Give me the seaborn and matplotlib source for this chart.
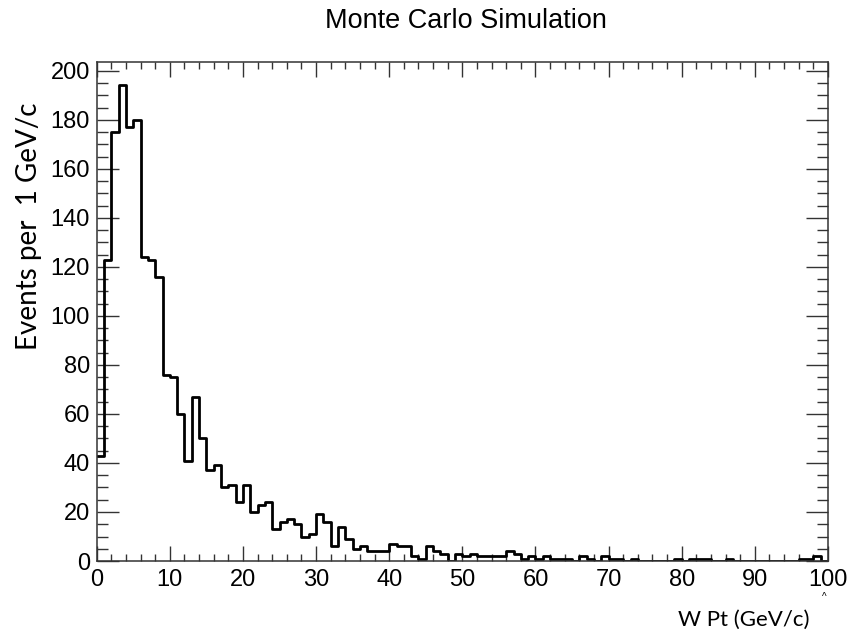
"""W Pt distribution from a Monte Carlo simulation, drawn ROOT style."""
import matplotlib
matplotlib.use('Agg')
import matplotlib.pyplot as plt
from matplotlib.ticker import MultipleLocator
import numpy as np
import seaborn as sns

# events per 1 GeV/c bin, bins 0-1, 1-2, ... 99-100
bin_low = np.arange(0, 100)
counts = [43, 123, 175, 194, 177, 180, 124, 123, 116, 76,
          75, 60, 41, 67, 50, 37, 39, 30, 31, 24,
          31, 20, 23, 24, 13, 16, 17, 15, 10, 11,
          19, 16, 6, 14, 9, 5, 6, 4, 4, 4,
          7, 6, 6, 2, 1, 6, 4, 3, 0, 3,
          2, 3, 2, 2, 2, 2, 4, 3, 1, 2,
          1, 2, 1, 1, 1, 0, 2, 1, 0, 2,
          1, 1, 0, 1, 0, 0, 0, 0, 0, 1,
          0, 1, 1, 1, 0, 0, 1, 0, 0, 0,
          0, 0, 0, 0, 0, 0, 1, 1, 2, 0]

title = 'Monte Carlo Simulation'
x_title = 'W Pt (GeV/c)'
y_title = 'Events per  1 GeV/c'

sns.set_style('ticks')
plt.rcParams['font.family'] = ['Liberation Sans', 'DejaVu Sans']
plt.rcParams['text.color'] = 'black'

fig = plt.figure(figsize=(8.59, 6.36), dpi=100)
ax = fig.add_axes([0.1126, 0.1179, 0.8513, 0.7851])

sns.histplot(x=bin_low + 0.5, weights=counts, bins=100, binrange=(0, 100),
             element='step', fill=False, color='black', linewidth=2.0, ax=ax)

ax.set_xlim(0, 100)
ax.set_ylim(0, 1.05 * max(counts))  # ROOT leaves 5% headroom

# ticks on all four sides, pointing in
ax.xaxis.set_major_locator(MultipleLocator(10))
ax.xaxis.set_minor_locator(MultipleLocator(2))
ax.yaxis.set_major_locator(MultipleLocator(20))
ax.yaxis.set_minor_locator(MultipleLocator(5))
ax.tick_params(which='both', direction='in', top=True, right=True,
               width=1.0, color='#333333', labelcolor='black', labelsize=17)
ax.tick_params(axis='x', which='major', length=10.5, pad=6)
ax.tick_params(axis='x', which='minor', length=5)
ax.tick_params(axis='y', which='major', length=16, pad=5)
ax.tick_params(axis='y', which='minor', length=8)
for spine in ax.spines.values():
    spine.set_visible(True)
    spine.set_linewidth(1.1)
    spine.set_color('#333333')

ax.set_xlabel('')
ax.set_ylabel('')
fig.text(0.5427, 1 - 21 / 636, title, ha='center', va='center', fontsize=19.5)
fig.text(810 / 859, 1 - 620 / 636, x_title, ha='right', va='center',
         fontsize=16, family=['Lato', 'DejaVu Sans'])
fig.text(29 / 859, 1 - 103 / 636, y_title, ha='center', va='top',
         rotation=90, fontsize=20, family=['Lato', 'DejaVu Sans'])
fig.text(824 / 859, 1 - 597 / 636, '^', ha='center', va='center', fontsize=7)

fig.savefig('out.png', dpi=100)
